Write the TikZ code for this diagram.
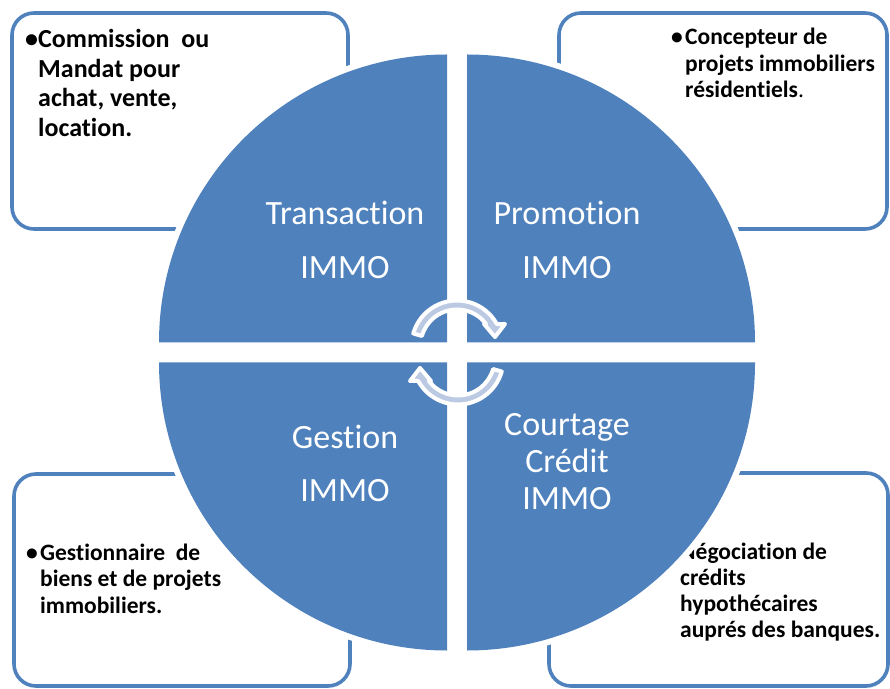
\documentclass[tikz,border=0pt]{standalone}
\usepackage{fontspec}
\setmainfont{Carlito}[Ligatures=NoCommon]
\usetikzlibrary{calc}
\definecolor{qblue}{RGB}{79,129,189}
\definecolor{arrowfill}{RGB}{187,201,227}
\begin{document}
\begin{tikzpicture}[x=1pt,y=1pt,
  infobox/.style={draw=qblue, line width=3.6pt, rounded corners=22pt, fill=white, inner sep=0pt},
  boxtext/.style={anchor=base west, inner sep=0pt, font=\bfseries\fontsize{23.5}{26.5}\selectfont},
  qlabel/.style={text=white, anchor=base, inner sep=0pt, font=\fontsize{34}{40}\selectfont},
  cyc/.style={fill=arrowfill, draw=white, line width=4pt, line join=round}]
\useasboundingbox (0,0) rectangle (890,688);
% ---------- boxes
\node[infobox, minimum width=336pt, minimum height=216pt] (boxTL) at (180,567) {};
\node[infobox, minimum width=328pt, minimum height=216pt] (boxTR) at (723,567) {};
\node[infobox, minimum width=336pt, minimum height=212pt] (boxBL) at (182,108) {};
\node[infobox, minimum width=339pt, minimum height=213pt] (boxBR) at (718.5,108.5) {};
% ---------- box texts
\node[boxtext, font=\bfseries\fontsize{26}{29.5}\selectfont] (txtTL) at (25,640)
  {\begin{tabular}[t]{@{}l@{}l@{}}\makebox[13pt][l]{•}&Commission\ \ ou\\&Mandat pour\\&achat, vente,\\&location.\end{tabular}};
\node[boxtext] (txtTR) at (671,643)
  {\begin{tabular}[t]{@{}l@{}l@{}}\makebox[14pt][l]{•}&Concepteur de\\&projets immobiliers\\&résidentiels{\mdseries.}\end{tabular}};
\node[boxtext] (txtBL) at (26,128)
  {\begin{tabular}[t]{@{}l@{}l@{}}\makebox[14pt][l]{•}&Gestionnaire\ \ de\\&biens et de projets\\&immobiliers.\end{tabular}};
\node[boxtext, font=\bfseries\fontsize{23.5}{26}\selectfont] (txtBR) at (666,129)
  {\begin{tabular}[t]{@{}l@{}l@{}}\makebox[14pt][l]{•}&Négociation de\\&crédits\\&hypothécaires\\&auprés des banques.\end{tabular}};
% ---------- white halos of the quarters
\fill[white] (447,345.5) -- ++(180:294pt) arc[start angle=180,end angle=90,radius=294pt] -- cycle;
\fill[white] (467,345.5) -- ++(90:294pt) arc[start angle=90,end angle=0,radius=294pt] -- cycle;
\fill[white] (447,325.5) -- ++(270:294pt) arc[start angle=270,end angle=180,radius=294pt] -- cycle;
\fill[white] (467,325.5) -- ++(0:294pt) arc[start angle=0,end angle=-90,radius=294pt] -- cycle;
% ---------- blue quarters
\fill[qblue] (447,345.5) -- ++(180:288pt) arc[start angle=180,end angle=90,radius=288pt] -- cycle;
\fill[qblue] (467,345.5) -- ++(90:288pt) arc[start angle=90,end angle=0,radius=288pt] -- cycle;
\fill[qblue] (447,325.5) -- ++(270:288pt) arc[start angle=270,end angle=180,radius=288pt] -- cycle;
\fill[qblue] (467,325.5) -- ++(0:288pt) arc[start angle=0,end angle=-90,radius=288pt] -- cycle;
% ---------- quarter labels
\node[qlabel] (lblTa) at (345,463) {Transaction};
\node[qlabel] (lblTb) at (345,409) {IMMO};
\node[qlabel] (lblPa) at (567,463) {Promotion};
\node[qlabel] (lblPb) at (567,409) {IMMO};
\node[qlabel] (lblGa) at (345,240) {Gestion};
\node[qlabel] (lblGb) at (345,187) {IMMO};
\node[qlabel] (lblCa) at (567,252) {Courtage};
\node[qlabel] (lblCb) at (567,215) {Crédit};
\node[qlabel] (lblCc) at (567,179) {IMMO};
% ---------- circular arrows
\coordinate (ca) at (457,342);
\draw[cyc] ($(ca)+(164:45.5pt)$) arc[start angle=164,end angle=28.9,radius=45.5pt]
  -- (505,364) -- (495,351) -- (484,364) -- (486.1,364)
  arc[start angle=37.1,end angle=164,radius=36.5pt] -- cycle;
\begin{scope}[rotate around={180:(457.5,335.5)}]
\coordinate (cb) at (457,342);
\draw[cyc] ($(cb)+(164:45.5pt)$) arc[start angle=164,end angle=28.9,radius=45.5pt]
  -- (505,364) -- (495,351) -- (484,364) -- (486.1,364)
  arc[start angle=37.1,end angle=164,radius=36.5pt] -- cycle;
\end{scope}
\end{tikzpicture}
\end{document}
